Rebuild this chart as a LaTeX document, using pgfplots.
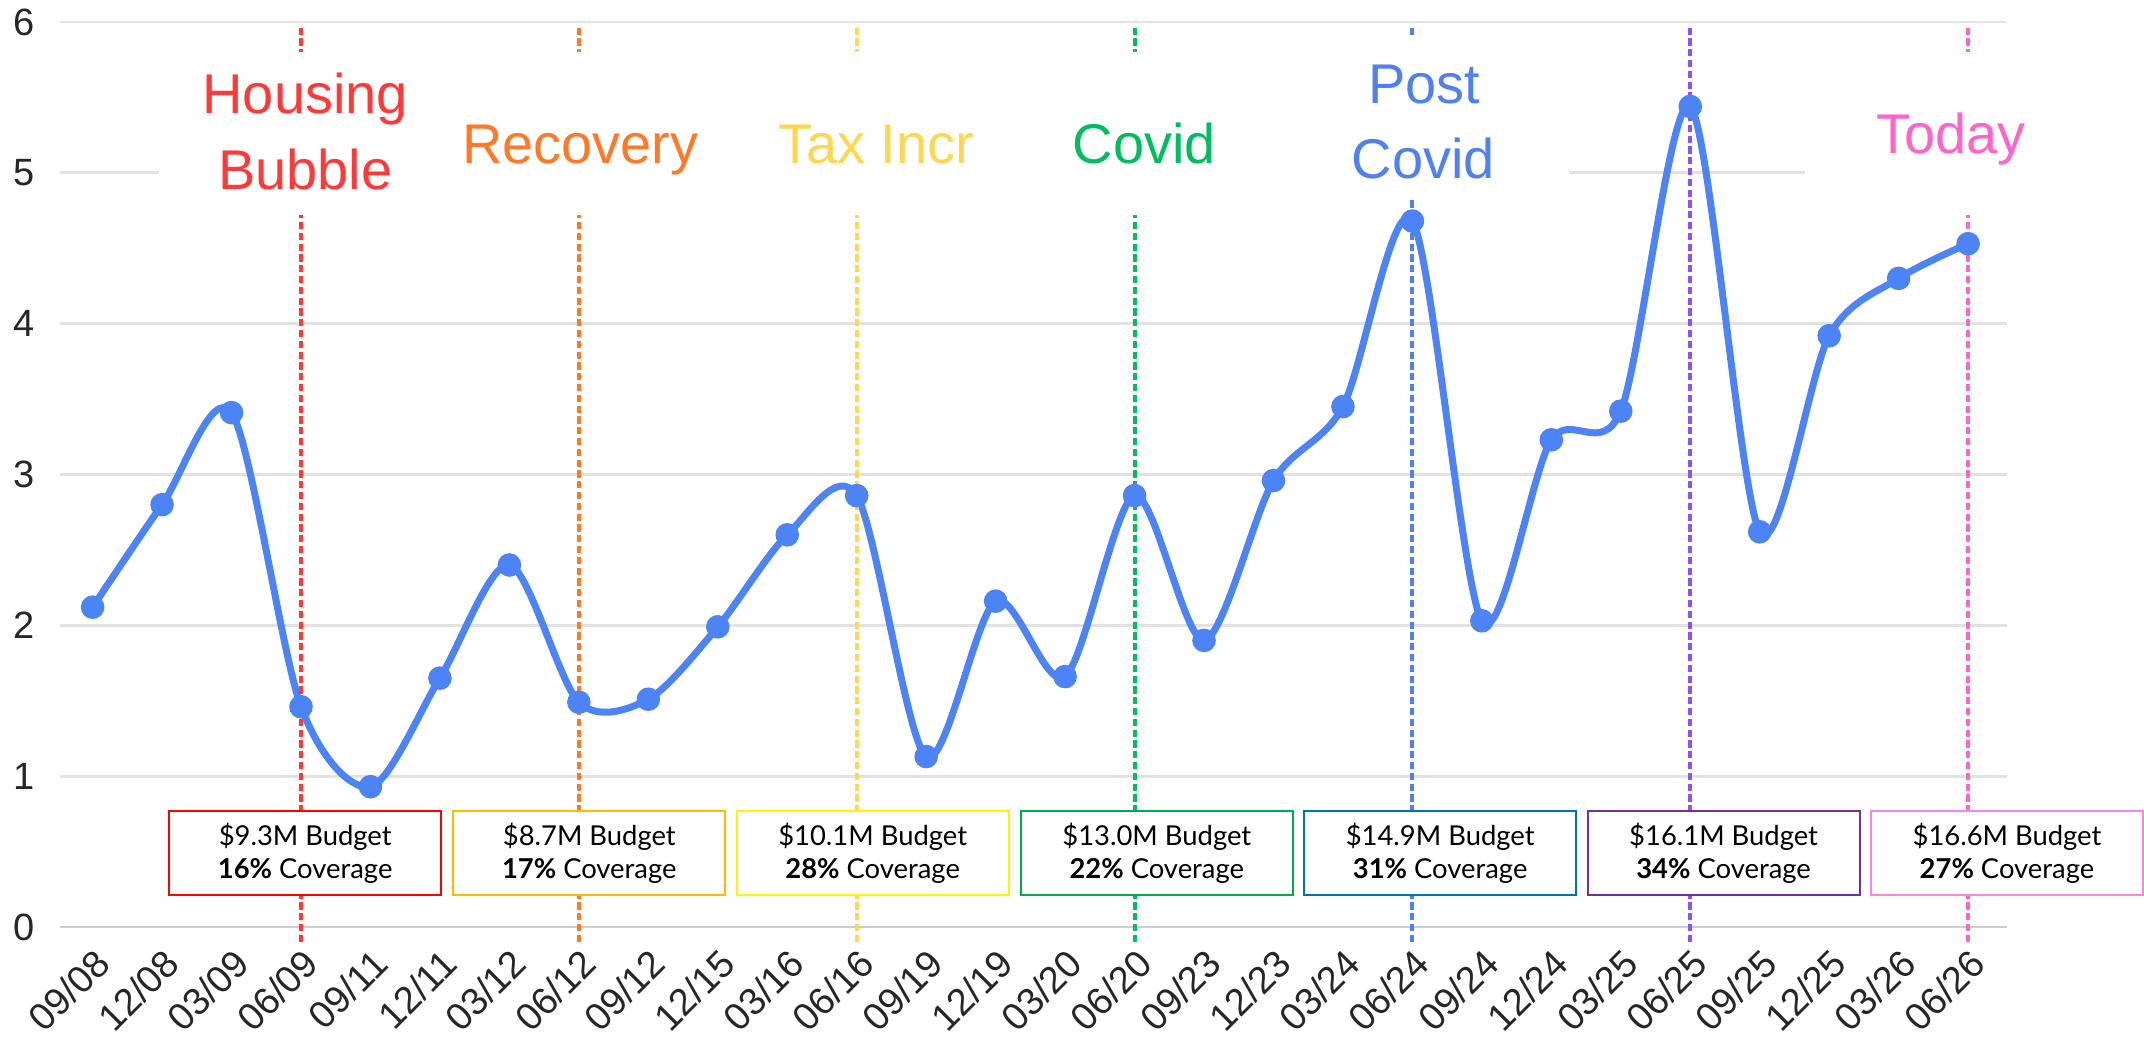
\documentclass[border=0pt]{standalone}
\usepackage{pgfplots}
\pgfplotsset{compat=1.18}
\usepackage{fontspec}
\setmainfont{Liberation Sans}
\newfontfamily\boxfont{Lato}
\definecolor{dataline}{RGB}{77,132,245}
\definecolor{gridgray}{RGB}{226,226,226}
\definecolor{zerogray}{RGB}{205,205,205}
\definecolor{tred}{RGB}{255,56,56}
\definecolor{torange}{RGB}{255,122,40}
\definecolor{tgold}{RGB}{255,214,80}
\definecolor{tgreen}{RGB}{0,190,95}
\definecolor{tblue}{RGB}{79,129,240}
\definecolor{tpurple}{RGB}{140,82,255}
\definecolor{tpink}{RGB}{255,100,200}
\definecolor{bred}{RGB}{255,0,0}
\definecolor{borange}{RGB}{255,185,0}
\definecolor{byellow}{RGB}{255,245,0}
\definecolor{bgreen}{RGB}{0,170,80}
\definecolor{bblue}{RGB}{0,112,192}
\definecolor{bpurple}{RGB}{112,48,160}
\definecolor{bpink}{RGB}{255,130,220}
\begin{document}
\begin{tikzpicture}
\begin{axis}[
  at={(0,0)}, anchor=south west,
  scale only axis, width=486.75pt, height=226.25pt,
  xmin=-0.47, xmax=27.56, ymin=0, ymax=6,
  clip=false,
  axis line style={draw=none},
  tick style={draw=none},
  ytick={0,1,2,3,4,5,6},
  ymajorgrids,
  grid style={draw=gridgray, line width=0.7pt},
  xtick={0,1,...,27},
  xticklabels={09/08,12/08,03/09,06/09,09/11,12/11,03/12,06/12,09/12,12/15,03/16,06/16,09/19,12/19,03/20,06/20,09/23,12/23,03/24,06/24,09/24,12/24,03/25,06/25,09/25,12/25,03/26,06/26},
  x tick label style={rotate=45, anchor=north east, font=\fontsize{9.5}{11}\selectfont, text=black!85},
  y tick label style={font=\fontsize{9.5}{11}\selectfont, text=black!85, xshift=-2.8pt},
  /pgf/number format/assume math mode=true,
]
\draw[zerogray, line width=0.7pt] (axis cs:-0.47,0) -- (axis cs:27.56,0);
\addplot[dataline, line width=1.75pt, smooth, mark=*, mark size=2.8pt,
  mark options={fill=dataline, draw=dataline, line width=0.3pt}] coordinates {
(0,2.12) (1,2.80) (2,3.41) (3,1.46) (4,0.93) (5,1.65) (6,2.40) (7,1.49)
(8,1.51) (9,1.99) (10,2.60) (11,2.86) (12,1.13) (13,2.16) (14,1.66) (15,2.86)
(16,1.90) (17,2.96) (18,3.45) (19,4.68) (20,2.03) (21,3.23) (22,3.42) (23,5.44)
(24,2.62) (25,3.92) (26,4.30) (27,4.53)
};
% vertical event lines
\draw[tred, line width=1pt, dash pattern=on 1.8pt off 0.9pt] (axis cs:3,-0.1) -- (axis cs:3,5.97);
\draw[torange, line width=1pt, dash pattern=on 1.8pt off 0.9pt] (axis cs:7,-0.1) -- (axis cs:7,5.97);
\draw[tgold, line width=1pt, dash pattern=on 1.8pt off 0.9pt] (axis cs:11,-0.1) -- (axis cs:11,5.97);
\draw[tgreen, line width=1pt, dash pattern=on 1.8pt off 0.9pt] (axis cs:15,-0.1) -- (axis cs:15,5.97);
\draw[tblue, line width=1pt, dash pattern=on 1.8pt off 0.9pt] (axis cs:19,-0.1) -- (axis cs:19,5.97);
\draw[tpurple, line width=1pt, dash pattern=on 1.8pt off 0.9pt] (axis cs:23,-0.1) -- (axis cs:23,5.97);
\draw[tpink, line width=1pt, dash pattern=on 1.8pt off 0.9pt] (axis cs:27,-0.1) -- (axis cs:27,5.97);
% white label backgrounds
\fill[white] (axis cs:0.96,4.72) rectangle (axis cs:17.5,5.80);
\fill[white] (axis cs:17.5,4.83) rectangle (axis cs:21.26,5.91);
\fill[white] (axis cs:24.65,4.72) rectangle (axis cs:27.56,5.80);
% event labels
\node[anchor=base, inner sep=0pt, text=tred, font=\fontsize{14}{17}\selectfont] at (axis cs:3.06,5.39) {Housing};
\node[anchor=base, inner sep=0pt, text=tred, font=\fontsize{14}{17}\selectfont] at (axis cs:3.06,4.89) {Bubble};
\node[anchor=base, inner sep=0pt, text=torange, font=\fontsize{14}{17}\selectfont] at (axis cs:7.02,5.06) {Recovery};
\node[anchor=base, inner sep=0pt, text=tgold, font=\fontsize{14}{17}\selectfont] at (axis cs:11.28,5.06) {Tax Incr};
\node[anchor=base, inner sep=0pt, text=tgreen, font=\fontsize{14}{17}\selectfont] at (axis cs:15.14,5.06) {Covid};
\node[anchor=base, inner sep=0pt, text=tblue, font=\fontsize{14}{17}\selectfont] at (axis cs:19.17,5.46) {Post};
\node[anchor=base, inner sep=0pt, text=tblue, font=\fontsize{14}{17}\selectfont] at (axis cs:19.16,4.96) {Covid};
\node[anchor=base, inner sep=0pt, text=tpink, font=\fontsize{14}{17}\selectfont] at (axis cs:26.75,5.13) {Today};
% budget boxes
\node[draw=bred, fill=white, line width=0.5pt, minimum width=68pt, minimum height=21.1pt, inner sep=0pt, align=center, font=\boxfont\fontsize{6.85}{8.2}\selectfont] at (axis cs:3.06,0.49) {\$9.3M Budget\\\textbf{16\%} Coverage};
\node[draw=borange, fill=white, line width=0.5pt, minimum width=68pt, minimum height=21.1pt, inner sep=0pt, align=center, font=\boxfont\fontsize{6.85}{8.2}\selectfont] at (axis cs:7.15,0.49) {\$8.7M Budget\\\textbf{17\%} Coverage};
\node[draw=byellow, fill=white, line width=0.5pt, minimum width=68pt, minimum height=21.1pt, inner sep=0pt, align=center, font=\boxfont\fontsize{6.85}{8.2}\selectfont] at (axis cs:11.23,0.49) {\$10.1M Budget\\\textbf{28\%} Coverage};
\node[draw=bgreen, fill=white, line width=0.5pt, minimum width=68pt, minimum height=21.1pt, inner sep=0pt, align=center, font=\boxfont\fontsize{6.85}{8.2}\selectfont] at (axis cs:15.32,0.49) {\$13.0M Budget\\\textbf{22\%} Coverage};
\node[draw=bblue, fill=white, line width=0.5pt, minimum width=68pt, minimum height=21.1pt, inner sep=0pt, align=center, font=\boxfont\fontsize{6.85}{8.2}\selectfont] at (axis cs:19.40,0.49) {\$14.9M Budget\\\textbf{31\%} Coverage};
\node[draw=bpurple, fill=white, line width=0.5pt, minimum width=68pt, minimum height=21.1pt, inner sep=0pt, align=center, font=\boxfont\fontsize{6.85}{8.2}\selectfont] at (axis cs:23.48,0.49) {\$16.1M Budget\\\textbf{34\%} Coverage};
\node[draw=bpink, fill=white, line width=0.5pt, minimum width=68pt, minimum height=21.1pt, inner sep=0pt, align=center, font=\boxfont\fontsize{6.85}{8.2}\selectfont] at (axis cs:27.56,0.49) {\$16.6M Budget\\\textbf{27\%} Coverage};
\end{axis}
\pgfresetboundingbox
\path (-15pt,-29.25pt) rectangle (521pt,231.75pt);
\end{tikzpicture}
\end{document}
